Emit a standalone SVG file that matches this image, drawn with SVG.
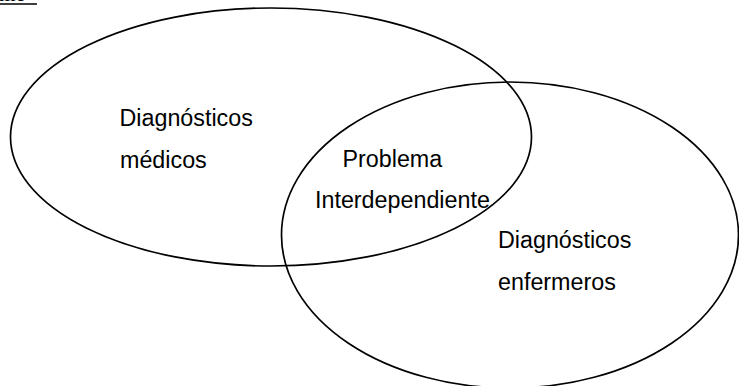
<svg xmlns="http://www.w3.org/2000/svg" width="739" height="386" viewBox="0 0 739 386">
<style>
.set{fill:none;stroke:#000;stroke-width:1.7}
.lbl{font-family:"Liberation Sans",Arial,sans-serif;font-size:23.3px;fill:#000}
.hdr{font-family:"Liberation Serif","Times New Roman",serif;font-size:21.3px;fill:#000}
</style>
<rect width="739" height="386" fill="#fff"/>
<g id="header">
<text class="hdr" x="-1" y="1">me</text>
<line x1="0" y1="4" x2="37" y2="4" stroke="#000" stroke-width="1.6"/>
</g>
<g id="connectors"></g>
<g id="medicos">
<ellipse class="set" cx="271" cy="137" rx="260.5" ry="129"/>
<text class="lbl" x="119.5" y="126">Diagnósticos</text>
<text class="lbl" x="120" y="168">médicos</text>
</g>
<g id="enfermeros">
<ellipse class="set" cx="510" cy="235" rx="228.5" ry="153"/>
<text class="lbl" x="498" y="248">Diagnósticos</text>
<text class="lbl" x="498" y="290">enfermeros</text>
</g>
<g id="interdependiente">
<text class="lbl" x="342.5" y="167">Problema</text>
<text class="lbl" x="315" y="207.5">Interdependiente</text>
</g>
</svg>
